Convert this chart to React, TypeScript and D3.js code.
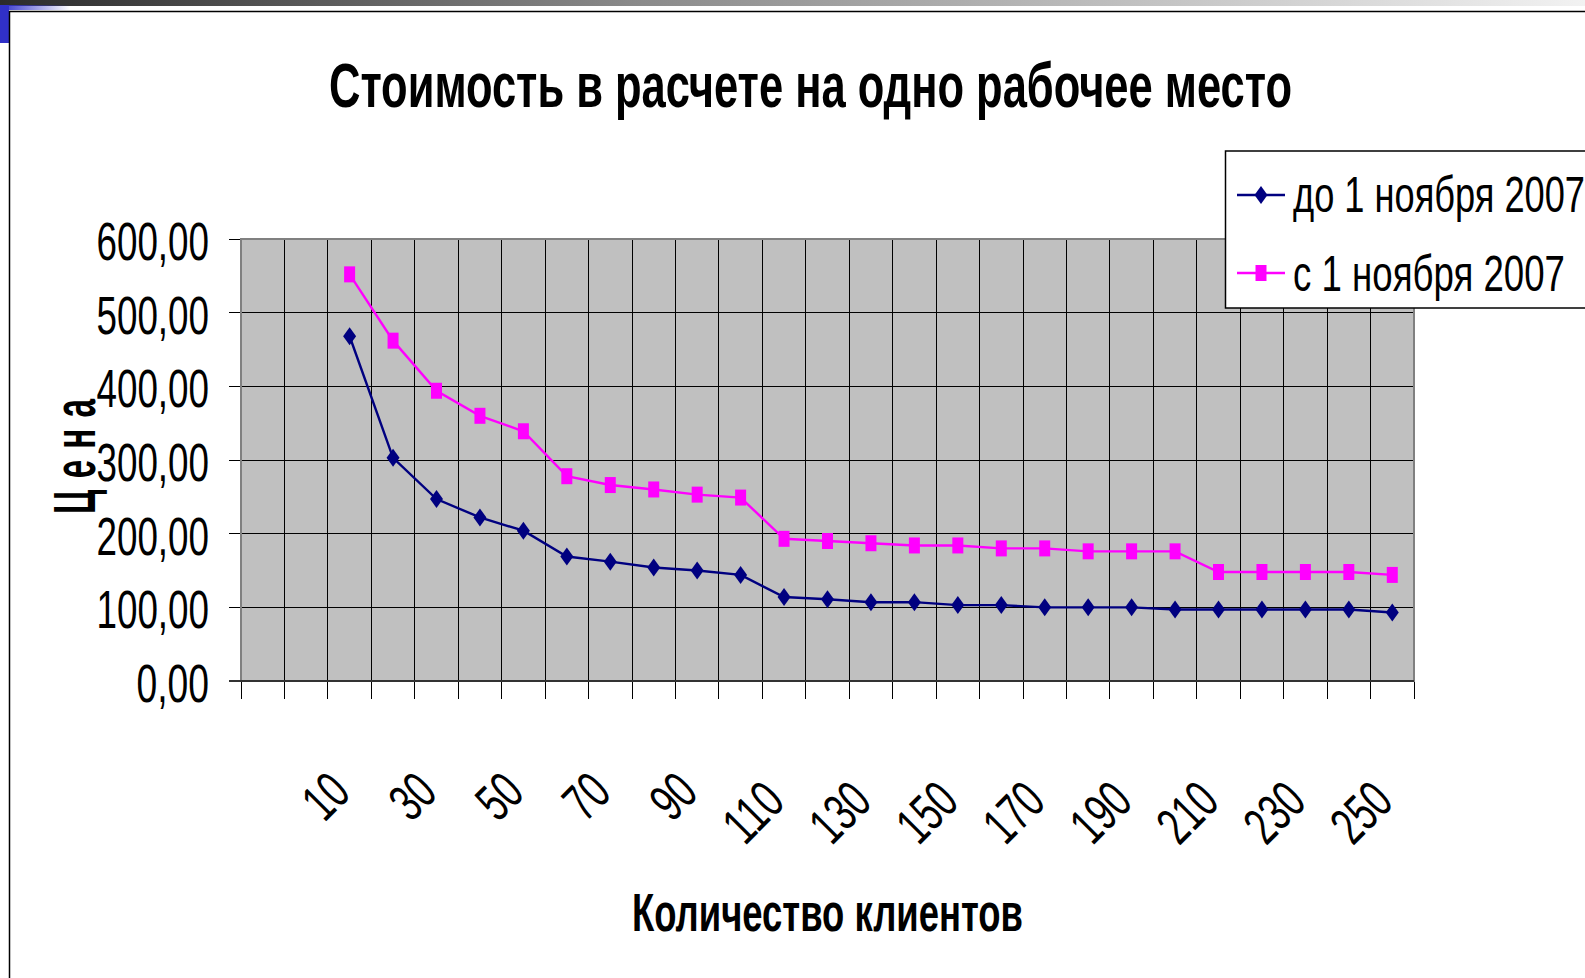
import { useEffect, useRef } from "react";
import * as d3 from "d3";

// categories (first two slots are empty in the original sheet)
const xLabels = [
  "", "", "10", "20", "30", "40", "50", "60", "70", "80", "90", "100", "110", "120",
  "130", "140", "150", "160", "170", "180", "190", "200", "210", "220", "230", "240", "250",
];

const beforeNov: (number | null)[] = [
  null, null, 468, 303, 247, 222, 204, 169, 162, 154, 150, 144, 114, 111, 107, 107,
  103, 103, 100, 100, 100, 97, 97, 97, 97, 97, 93,
];
const afterNov: (number | null)[] = [
  null, null, 552, 462, 394, 360, 339, 278, 266, 260, 253, 249, 193, 190, 187, 184,
  184, 180, 180, 176, 176, 176, 148, 148, 148, 148, 144,
];

const yTicks = [0, 100, 200, 300, 400, 500, 600];
const seriesNames = ["до 1 ноября 2007", "с 1 ноября 2007"];
const seriesColors = ["#000080", "#FF00FF"];

const W = 1585;
const H = 978;
const FONT = "'Liberation Sans', Arial, sans-serif";

// narrow number glyphs of the original font
const numWidth = (s: string) =>
  s.split("").reduce((acc, ch) => acc + (ch === "," ? 12.5 : 20), 0);

export default function App() {
  const svgRef = useRef<SVGSVGElement | null>(null);

  useEffect(() => {
    if (!svgRef.current) return;
    const svg = d3.select(svgRef.current);
    svg.selectAll("*").remove();

    const plot = { left: 241, right: 1414, top: 239, bottom: 681 };

    const x = d3
      .scaleBand<number>()
      .domain(d3.range(xLabels.length))
      .range([plot.left, plot.right])
      .padding(0);
    const cx = (i: number) => (x(i) ?? 0) + x.bandwidth() / 2;

    const y = d3.scaleLinear().domain([0, 600]).range([plot.bottom, plot.top]);

    const defs = svg.append("defs");
    const topGrad = defs
      .append("linearGradient")
      .attr("id", "topbar")
      .attr("x1", "0%")
      .attr("x2", "100%");
    topGrad.append("stop").attr("offset", "0%").attr("stop-color", "#2b2b2b");
    topGrad.append("stop").attr("offset", "40%").attr("stop-color", "#8a8a8a");
    topGrad.append("stop").attr("offset", "100%").attr("stop-color", "#f2f2f2");
    const blueGrad = defs
      .append("linearGradient")
      .attr("id", "bluefade")
      .attr("x1", "0%")
      .attr("x2", "100%");
    blueGrad.append("stop").attr("offset", "0%").attr("stop-color", "#3333cc");
    blueGrad.append("stop").attr("offset", "100%").attr("stop-color", "#3333cc").attr("stop-opacity", 0);

    // slide decoration
    svg.append("rect").attr("width", W).attr("height", H).attr("fill", "#fff");
    svg.append("rect").attr("x", 0).attr("y", 0).attr("width", W).attr("height", 6).attr("fill", "url(#topbar)");
    svg.append("rect").attr("x", 0).attr("y", 5).attr("width", 70).attr("height", 5).attr("fill", "url(#bluefade)");
    svg.append("rect").attr("x", 0).attr("y", 5).attr("width", 9).attr("height", 38).attr("fill", "#3030c8");
    svg.append("line").attr("x1", 9).attr("x2", W).attr("y1", 11.5).attr("y2", 11.5).attr("stroke", "#000").attr("stroke-width", 1.5);
    svg.append("line").attr("x1", 9.5).attr("x2", 9.5).attr("y1", 11).attr("y2", H).attr("stroke", "#000").attr("stroke-width", 1.5);

    // title
    svg
      .append("text")
      .attr("x", 329)
      .attr("y", 107)
      .attr("font-family", FONT)
      .attr("font-weight", "bold")
      .attr("font-size", 63)
      .attr("textLength", 963)
      .attr("lengthAdjust", "spacingAndGlyphs")
      .text("Стоимость в расчете на одно рабочее место");

    // plot area
    svg
      .append("rect")
      .attr("x", plot.left)
      .attr("y", plot.top)
      .attr("width", plot.right - plot.left)
      .attr("height", plot.bottom - plot.top)
      .attr("fill", "#C0C0C0");

    const grid = svg.append("g").attr("shape-rendering", "crispEdges");
    d3.range(xLabels.length + 1).forEach((i) => {
      const gx = plot.left + i * x.bandwidth();
      grid
        .append("line")
        .attr("x1", gx)
        .attr("x2", gx)
        .attr("y1", plot.top)
        .attr("y2", plot.bottom + 18)
        .attr("stroke", "#000")
        .attr("stroke-width", 1);
    });
    yTicks.forEach((t) => {
      grid
        .append("line")
        .attr("x1", plot.left - 12)
        .attr("x2", plot.right)
        .attr("y1", y(t))
        .attr("y2", y(t))
        .attr("stroke", "#000")
        .attr("stroke-width", 1);
    });

    svg
      .append("rect")
      .attr("x", plot.left)
      .attr("y", plot.top)
      .attr("width", plot.right - plot.left)
      .attr("height", plot.bottom - plot.top)
      .attr("fill", "none")
      .attr("stroke", "#808080")
      .attr("stroke-width", 2);
    svg
      .append("line")
      .attr("x1", plot.left - 12)
      .attr("x2", plot.right)
      .attr("y1", plot.bottom)
      .attr("y2", plot.bottom)
      .attr("stroke", "#333")
      .attr("stroke-width", 2);

    // y tick labels
    yTicks.forEach((t) => {
      const label = d3.format(".2f")(t).replace(".", ",");
      svg
        .append("text")
        .attr("x", 209)
        .attr("y", y(t) + 21)
        .attr("text-anchor", "end")
        .attr("font-family", FONT)
        .attr("font-size", 53)
        .attr("textLength", numWidth(label))
        .attr("lengthAdjust", "spacingAndGlyphs")
        .text(label);
    });

    // x tick labels, every other category
    xLabels.forEach((lab, i) => {
      if (i % 2 !== 0 || lab === "") return;
      const ex = cx(i) + 3;
      const ey = lab.length > 2 ? 804 : 795;
      svg
        .append("text")
        .attr("transform", `translate(${ex},${ey}) rotate(-45)`)
        .attr("text-anchor", "end")
        .attr("font-family", FONT)
        .attr("font-size", 53)
        .attr("textLength", numWidth(lab))
        .attr("lengthAdjust", "spacingAndGlyphs")
        .text(lab);
    });

    // axis titles
    svg
      .append("text")
      .attr("x", 632)
      .attr("y", 931)
      .attr("font-family", FONT)
      .attr("font-weight", "bold")
      .attr("font-size", 53)
      .attr("textLength", 391)
      .attr("lengthAdjust", "spacingAndGlyphs")
      .text("Количество клиентов");
    svg
      .append("text")
      .attr("transform", "translate(95,514) rotate(-90)")
      .attr("font-family", FONT)
      .attr("font-weight", "bold")
      .attr("font-size", 60)
      .attr("letter-spacing", 20)
      .attr("textLength", 126)
      .attr("lengthAdjust", "spacingAndGlyphs")
      .text("Цена");

    // series
    const series = [beforeNov, afterNov];
    const line = d3
      .line<number | null>()
      .defined((d) => d !== null)
      .x((_, i) => cx(i))
      .y((d) => y(d as number));

    const diamond = "M0,-9L6.5,0L0,9L-6.5,0Z";
    const square = "M-5.5,-8H5.5V8H-5.5Z";

    series.forEach((vals, s) => {
      svg
        .append("path")
        .datum(vals)
        .attr("fill", "none")
        .attr("stroke", seriesColors[s])
        .attr("stroke-width", 2.4)
        .attr("d", line);
      svg
        .append("g")
        .selectAll("path")
        .data(vals.map((v, i) => ({ v, i })).filter((d) => d.v !== null))
        .join("path")
        .attr("transform", (d) => `translate(${cx(d.i)},${y(d.v as number)})`)
        .attr("d", s === 0 ? diamond : square)
        .attr("fill", seriesColors[s]);
    });

    // legend
    const legend = svg.append("g");
    legend
      .append("rect")
      .attr("x", 1225.5)
      .attr("y", 151)
      .attr("width", 400)
      .attr("height", 157)
      .attr("fill", "#fff")
      .attr("stroke", "#000")
      .attr("stroke-width", 1.5);
    const legendY = [195, 273];
    const legendBase = [212, 291];
    const legendWidths = [292, 272];
    seriesNames.forEach((name, s) => {
      legend
        .append("line")
        .attr("x1", 1237)
        .attr("x2", 1285)
        .attr("y1", legendY[s])
        .attr("y2", legendY[s])
        .attr("stroke", seriesColors[s])
        .attr("stroke-width", 2.4);
      legend
        .append("path")
        .attr("transform", `translate(1261,${legendY[s]})`)
        .attr("d", s === 0 ? diamond : square)
        .attr("fill", seriesColors[s]);
      legend
        .append("text")
        .attr("x", 1293)
        .attr("y", legendBase[s])
        .attr("font-family", FONT)
        .attr("font-size", 50)
        .attr("textLength", legendWidths[s])
        .attr("lengthAdjust", "spacingAndGlyphs")
        .text(name);
    });
  }, []);

  return (
    <div style={{ position: "absolute", left: 0, top: 0, width: W, height: H, overflow: "hidden" }}>
      <svg ref={svgRef} width={W} height={H} viewBox={`0 0 ${W} ${H}`} style={{ display: "block" }} />
    </div>
  );
}
